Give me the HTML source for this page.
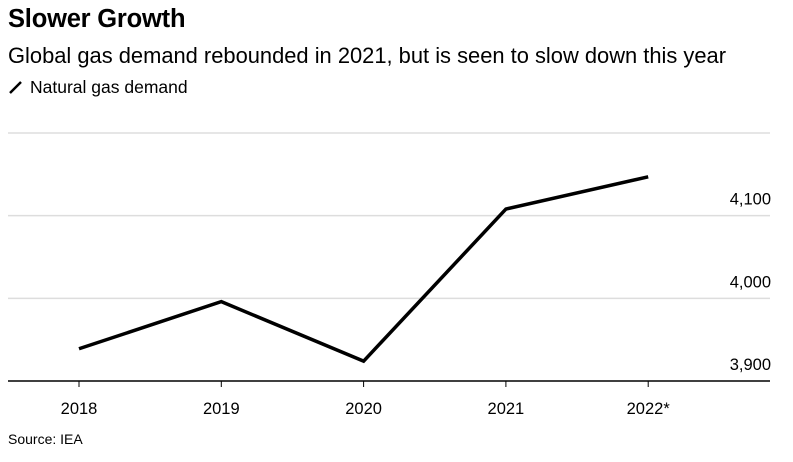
<!DOCTYPE html>
<html><head><meta charset="utf-8"><style>
body{margin:0;width:793px;height:462px;background:#fff;font-family:"Liberation Sans",sans-serif;overflow:hidden;position:relative}
.t{position:absolute;left:8px;white-space:nowrap;color:#000}
</style></head><body>
<div class="t" style="top:5px;font-size:25.5px;font-weight:bold;letter-spacing:-0.2px">Slower Growth</div>
<div class="t" style="top:43px;font-size:21.9px">Global gas demand rebounded in 2021, but is seen to slow down this year</div>
<div class="t" style="top:77px;font-size:17.5px"><svg width="16" height="14" style="vertical-align:-1px;margin-right:6px"><line x1="2" y1="13" x2="13" y2="2" stroke="#000" stroke-width="2.5"/></svg>Natural gas demand</div>
<svg id="c" width="793" height="462" style="position:absolute;left:0;top:0"></svg>
<div class="t" style="top:431px;font-size:14px">Source: IEA</div>
<script>
const categories=["2018","2019","2020","2021","2022*"];
const values=[3939,3996,3924,4108,4147];
const yTicks=[3900,4000,4100,4200];
const yTickLabels=["3,900","4,000","4,100",""];
const svg=document.getElementById('c');const NS="http://www.w3.org/2000/svg";
const y=v=>381-(v-3900)*0.8267;
const x=i=>79+i*142.3;
function mk(t,a){const e=document.createElementNS(NS,t);for(const k in a)e.setAttribute(k,a[k]);svg.appendChild(e);return e;}
yTicks.forEach((v,i)=>{
const g=mk('line',{x1:8,x2:770,y1:y(v),y2:y(v),stroke:i==0?'#000':'#ddd','stroke-width':1.5});


if(yTickLabels[i]){const t=mk('text',{x:771,y:y(v)-11,'text-anchor':'end','font-size':16.5,fill:'#000'});t.textContent=yTickLabels[i];

}
});
categories.forEach((c,i)=>{
const tk=mk('line',{x1:x(i),x2:x(i),y1:381,y2:387,stroke:'#000','stroke-width':1});


const t=mk('text',{x:x(i),y:414,'text-anchor':'middle','font-size':16.5,fill:'#000'});t.textContent=c;


});
const p=mk('polyline',{points:values.map((v,i)=>x(i)+','+y(v)).join(' '),fill:'none',stroke:'#000','stroke-width':3.5,'stroke-linejoin':'miter'});


</script>
</body></html>
